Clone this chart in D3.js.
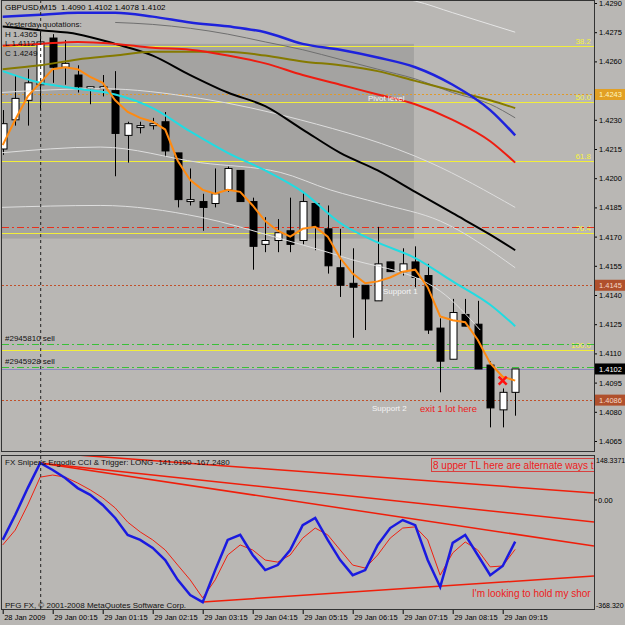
<!DOCTYPE html>
<html>
<head>
<meta charset="utf-8">
<script src="https://cdn.jsdelivr.net/npm/d3@7"></script>
<style>
body { margin: 0; background: #b9b7b4; }
svg { display: block; }
text { font-family: "Liberation Sans", Arial, sans-serif; }
</style>
</head>
<body>
<svg id="chart" width="625" height="625"></svg>
<script>
// GBPUSD M15, 28 Jan 2009 23:15 .. 29 Jan 09:30 (42 bars)
var opens  = [1.4215,1.4230,1.4240,1.4248,1.4272,1.4257,1.4253,1.4246,1.4246,1.4245,1.4222,1.4226,1.4227,1.4229,1.4213,1.4188,1.4188,1.4187,1.4194,1.4204,1.4188,1.4166,1.4168,1.4173,1.4168,1.4187,1.4174,1.4154,1.4146,1.4145,1.4137,1.4157,1.4152,1.4157,1.4150,1.4123,1.4107,1.4130,1.4125,1.4104,1.4081,1.4090];
var highs  = [1.4235,1.4253,1.4256,1.4276,1.4274,1.4271,1.4258,1.4247,1.4253,1.4255,1.4229,1.4229,1.4231,1.4234,1.4213,1.4205,1.4192,1.4205,1.4206,1.4204,1.4190,1.4180,1.4179,1.4190,1.4193,1.4187,1.4186,1.4174,1.4164,1.4145,1.4175,1.4157,1.4164,1.4165,1.4156,1.4128,1.4138,1.4138,1.4137,1.4106,1.4092,1.4102];
var lows   = [1.4212,1.4227,1.4227,1.4235,1.4249,1.4248,1.4244,1.4238,1.4242,1.4201,1.4208,1.4223,1.4225,1.4211,1.4185,1.4186,1.4173,1.4185,1.4193,1.4188,1.4153,1.4162,1.4162,1.4162,1.4166,1.4163,1.4151,1.4139,1.4118,1.4122,1.4137,1.4152,1.4150,1.4144,1.4120,1.4090,1.4107,1.4124,1.4102,1.4072,1.4072,1.4078];
var closes = [1.4228,1.4241,1.4249,1.4270,1.4257,1.4259,1.4247,1.4247,1.4247,1.4223,1.4228,1.4227,1.4228,1.4214,1.4189,1.4189,1.4185,1.4192,1.4205,1.4188,1.4165,1.4168,1.4172,1.4166,1.4188,1.4175,1.4155,1.4145,1.4144,1.4138,1.4156,1.4152,1.4156,1.4149,1.4122,1.4106,1.4131,1.4124,1.4102,1.4082,1.4090,1.4102];

// fast MA (orange), one value per bar
var maFast = [1.4217,1.4230,1.4242,1.4249,1.4256,1.4257,1.4256,1.4252,1.4249,1.4240,1.4234,1.4231,1.4229,1.4225,1.4209,1.4199,1.4194,1.4192,1.4194,1.4193,1.4186,1.4178,1.4173,1.4170,1.4174,1.4175,1.4170,1.4159,1.4151,1.4146,1.4147,1.4149,1.4152,1.4153,1.4144,1.4129,1.4127,1.4126,1.4117,1.4105,1.4098,1.4096];

// slower MAs read every 3 bars
var maBars  = [0,3,6,9,12,15,18,21,24,27,30,33,36,39,41];
var maBlue  = [1.4283,1.4284,1.4285,1.4285,1.4283,1.4280,1.4278,1.4275,1.4269,1.4266,1.4262,1.4257,1.4248,1.4235,1.4222];
var maRed   = [1.4268,1.4269,1.4270,1.4269,1.4267,1.4266,1.4263,1.4259,1.4253,1.4248,1.4243,1.4238,1.4230,1.4219,1.4208];
var maOlive = [1.4256,1.4258,1.4261,1.4263,1.4265,1.4265,1.4265,1.4263,1.4260,1.4258,1.4255,1.4250,1.4245,1.4240,1.4236];
var maBlack = [1.4278,1.4276,1.4274,1.4269,1.4263,1.4253,1.4244,1.4237,1.4225,1.4213,1.4204,1.4193,1.4182,1.4171,1.4163];
var maCyan  = [1.4255,1.4249,1.4246,1.4243,1.4236,1.4224,1.4213,1.4204,1.4193,1.4177,1.4167,1.4159,1.4147,1.4135,1.4124];

// envelope lines as [bar, price]
var envTop   = [[30,1.4294],[33,1.4291],[36,1.4285],[39,1.4279],[41,1.4275]];
var envGray  = [[9,1.4280],[12,1.4279],[15,1.4277],[18,1.4274],[21,1.4270],[24,1.4266],[27,1.4261],[30,1.4256],[33,1.4251],[36,1.4244],[39,1.4238],[41,1.4231]];
var envHigh  = [[-0.2,1.4244],[7.8,1.4246],[15.8,1.4241],[23.8,1.4230],[34.2,1.4208],[41,1.4185]];
var envMid   = [[-0.2,1.4213],[7.8,1.4216],[15.8,1.4208],[22.2,1.4203],[26.2,1.4194],[30.2,1.4187],[35,1.4178],[41,1.4154]];
var envLow   = [[-0.2,1.4185],[7.8,1.4186],[15.8,1.4180],[22.2,1.4169],[27.5,1.4159],[35,1.4142],[38.2,1.4122]];

// levels
var fibNames  = ["38.2","50.0","61.8","76.4","100.0"];
var fibPrices = [1.4268,1.4239,1.4209,1.4172,1.4112];
var pivot = 1.4243, support1 = 1.4145, support2 = 1.4086, lastPrice = 1.4102;
var redDashLevel = 1.4175;
var orderNames  = ["#2945810 sell","#2945928 sell"];
var orderPrices = [1.4115,1.4103];
var boxBars = [-0.3, 32.9], boxPrices = [1.4269, 1.4169];
var priceTicks = [1.4290,1.4275,1.4260,1.4245,1.4230,1.4215,1.4200,1.4185,1.4170,1.4155,1.4140,1.4125,1.4110,1.4095,1.4080,1.4065];

// Ergodic CCI (blue) and trigger (red)
var cci     = [-135,-51,40,125,101,74,40,17,-17,-61,-118,-135,-162,-203,-270,-321,-345,-237,-135,-118,-186,-237,-220,-169,-85,-61,-135,-203,-254,-237,-152,-95,-68,-85,-203,-294,-145,-118,-186,-254,-223,-141];
var trigger = [-152,-102,-17,77,84,77,57,34,7,-27,-75,-108,-135,-169,-220,-270,-331,-270,-186,-152,-169,-203,-210,-186,-129,-95,-118,-169,-220,-230,-186,-129,-95,-91,-135,-254,-179,-142,-169,-226,-223,-167];
var trendLines = [[[5.94,151.7],[47.3,23.4]],[[2.98,124.7],[47.3,-74.5]],[[2.98,124.7],[47.3,-155.6]],[[16.0,-344.7],[47.3,-256.9]]];

var timeBars   = [0,4,8,12,16,20,24,28,32,36,40];
var timeLabels = ["28 Jan 2009","29 Jan 00:15","29 Jan 01:15","29 Jan 02:15","29 Jan 03:15","29 Jan 04:15","29 Jan 05:15","29 Jan 06:15","29 Jan 07:15","29 Jan 08:15","29 Jan 09:15"];

var svg = d3.select("#chart");
var left = 2, right = 594, mainBottom = 452, subTop = 455, subBottom = 610;

var x = d3.scaleLinear().domain([0, 41]).range([2.7, 515.2]);
var y = d3.scaleLinear().domain([1.4065, 1.4290]).range([441, 3]);
var yc = d3.scaleLinear().domain([-368.32, 148.3371]).range([609, 456]);

svg.append("rect").attr("width", 625).attr("height", 625).attr("fill", "#b9b7b4");

var defs = svg.append("defs");
defs.append("clipPath").attr("id", "clipMain").append("rect")
    .attr("x", left).attr("y", 0).attr("width", right - left).attr("height", mainBottom);
defs.append("clipPath").attr("id", "clipSub").append("rect")
    .attr("x", left).attr("y", subTop).attr("width", right - left).attr("height", subBottom - subTop);

var main = svg.append("g").attr("clip-path", "url(#clipMain)");
var sub = svg.append("g").attr("clip-path", "url(#clipSub)");

// shaded box
main.append("rect")
    .attr("x", x(boxBars[0])).attr("y", y(boxPrices[0]))
    .attr("width", x(boxBars[1]) - x(boxBars[0]))
    .attr("height", y(boxPrices[1]) - y(boxPrices[0]))
    .attr("fill", "#a4a3a1");

function hline(price, color, dash, w) {
    main.append("line")
        .attr("x1", left).attr("x2", right)
        .attr("y1", Math.round(y(price)) + 0.5).attr("y2", Math.round(y(price)) + 0.5)
        .attr("stroke", color).attr("stroke-width", w || 1)
        .attr("stroke-dasharray", dash);
}

// levels
fibPrices.forEach(function (p, k) {
    hline(p, "#f2ee3a", null, 1);
    main.append("text").attr("x", 591).attr("y", Math.round(y(p)) - 2)
        .attr("text-anchor", "end").attr("font-size", 8).attr("fill", "#f6f23c")
        .text(fibNames[k]);
});
hline(pivot, "#e09a2a", "2,2");
hline(support1, "#c0502a", "2,2");
hline(support2, "#c0502a", "2,2");
hline(redDashLevel, "#e8301c", "7,3,2,3");
orderPrices.forEach(function (p, k) {
    hline(p, "#38c038", "7,3,2,3");
    main.append("text").attr("x", 5).attr("y", Math.round(y(p)) - 3)
        .attr("font-size", 8).attr("fill", "#111").text(orderNames[k]);
});
hline(lastPrice, "#8a8ac0", null);

// day separator
svg.append("line").attr("x1", x(3) + 0.5).attr("x2", x(3) + 0.5)
    .attr("y1", 0).attr("y2", subBottom)
    .attr("stroke", "#222").attr("stroke-dasharray", "3,3");

// candles
var bw = 7;
var candles = main.append("g");
opens.forEach(function (o, i) {
    var cx = Math.round(x(i)) + 0.5;
    var c = closes[i];
    candles.append("line").attr("x1", cx).attr("x2", cx)
        .attr("y1", y(highs[i])).attr("y2", y(lows[i]))
        .attr("stroke", "#000");
    var top = y(Math.max(o, c)), bot = y(Math.min(o, c));
    candles.append("rect")
        .attr("x", cx - bw / 2).attr("y", top)
        .attr("width", bw).attr("height", Math.max(1, bot - top))
        .attr("fill", c >= o ? "#fff" : "#000")
        .attr("stroke", "#000").attr("stroke-width", 1);
});

// moving averages
function lineOf(xs, ys, color, w, curve) {
    var pts = xs.map(function (b, k) { return [b, ys[k]]; });
    main.append("path").datum(pts)
        .attr("fill", "none").attr("stroke", color).attr("stroke-width", w)
        .attr("d", d3.line().x(function (d) { return x(d[0]); })
            .y(function (d) { return y(d[1]); }).curve(curve || d3.curveMonotoneX));
}
function envOf(pts, color) {
    lineOf(pts.map(function (d) { return d[0]; }), pts.map(function (d) { return d[1]; }), color, 1);
}
envOf(envTop, "#e6e6e6");
envOf(envGray, "#6f6f6f");
envOf(envHigh, "#dedede");
envOf(envMid, "#dedede");
envOf(envLow, "#dedede");
lineOf(maBars, maBlack, "#000", 2);
lineOf(maBars, maOlive, "#857a00", 2);
lineOf(maBars, maRed, "#ee1c10", 2);
lineOf(maBars, maBlue, "#1e22dc", 2.5);
lineOf(maBars, maCyan, "#20dce2", 2);
lineOf(d3.range(opens.length), maFast, "#ff8a10", 2, d3.curveLinear);

// annotations
main.append("text").attr("x", 368).attr("y", y(pivot) + 7).attr("font-size", 8)
    .attr("fill", "#f4f4f4").text("Pivot level");
main.append("text").attr("x", 383).attr("y", y(support1) + 9).attr("font-size", 8)
    .attr("fill", "#f4f4f4").text("Support 1");
main.append("text").attr("x", 372).attr("y", y(support2) + 11).attr("font-size", 8)
    .attr("fill", "#f4f4f4").text("Support 2");
main.append("text").attr("x", 420).attr("y", y(support2) + 12).attr("font-size", 9.5)
    .attr("fill", "#ee2020").text("exit 1 lot here");
var mx = x(40), my = y(1.4096);
main.append("path")
    .attr("d", "M" + (mx - 4) + "," + (my - 4) + "L" + (mx + 4) + "," + (my + 4) +
        "M" + (mx + 4) + "," + (my - 4) + "L" + (mx - 4) + "," + (my + 4))
    .attr("stroke", "#ff1010").attr("stroke-width", 2.5);

// header
svg.append("text").attr("x", 5).attr("y", 10).attr("font-size", 8).attr("fill", "#000")
    .attr("xml:space", "preserve").text("GBPUSD,M15  1.4090 1.4102 1.4078 1.4102");
["Yesterday quotations:", "H 1.4365", "L 1.4112", "C 1.4249"].forEach(function (t, k) {
    svg.append("text").attr("x", 5).attr("y", 27 + k * 9.5).attr("font-size", 8)
        .attr("fill", "#111").text(t);
});

// price axis
var yAxis = svg.append("g").attr("transform", "translate(" + right + ",0)")
    .call(d3.axisRight(y).tickValues(priceTicks).tickFormat(d3.format(".4f")).tickSize(3).tickPadding(2));
yAxis.select(".domain").remove();
yAxis.selectAll("text").attr("font-size", 7.5).attr("fill", "#000");
yAxis.selectAll("line").attr("stroke", "#000");

function priceTag(p, bg, fg) {
    var g = svg.append("g");
    g.append("rect").attr("x", right + 1).attr("y", y(p) - 5.5).attr("width", 30).attr("height", 11)
        .attr("fill", bg);
    g.append("text").attr("x", right + 5).attr("y", y(p) + 3).attr("font-size", 7.5).attr("fill", fg)
        .text(d3.format(".4f")(p));
}
priceTag(pivot, "#e2a024", "#fff6c0");
priceTag(support1, "#b0502c", "#f4d8c8");
priceTag(support2, "#b0502c", "#f4d8c8");
priceTag(lastPrice, "#000", "#fff");

// sub window
trendLines.forEach(function (t) {
    sub.append("line")
        .attr("x1", x(t[0][0])).attr("y1", yc(t[0][1]))
        .attr("x2", x(t[1][0])).attr("y2", yc(t[1][1]))
        .attr("stroke", "#f01e0a").attr("stroke-width", 1.5);
});
var cciLine = d3.line().x(function (d, i) { return x(i); }).y(function (d) { return yc(d); });
sub.append("path").datum(trigger).attr("fill", "none").attr("stroke", "#f02010")
    .attr("stroke-width", 1).attr("d", cciLine);
sub.append("path").datum(cci).attr("fill", "none").attr("stroke", "#1a1ae0")
    .attr("stroke-width", 2.5).attr("d", cciLine);

sub.append("text").attr("x", 5).attr("y", 465).attr("font-size", 8).attr("fill", "#111")
    .text("FX Sniper's Ergodic CCI & Trigger: LONG -141.0190 -167.2480");
sub.append("rect").attr("x", 431.5).attr("y", 458.5).attr("width", 170).attr("height", 13)
    .attr("fill", "none").attr("stroke", "#d84040");
sub.append("text").attr("x", 433).attr("y", 469).attr("font-size", 10).attr("fill", "#ee2020")
    .text("8 upper TL here are alternate ways t");
sub.append("text").attr("x", 472).attr("y", 597).attr("font-size", 10).attr("fill", "#ee2020")
    .text("I'm looking to hold my shor");
sub.append("text").attr("x", 5).attr("y", 608).attr("font-size", 8).attr("fill", "#111")
    .text("PFG FX, \u00a9 2001-2008 MetaQuotes Software Corp.");

svg.append("text").attr("x", right + 2).attr("y", 463).attr("font-size", 7).text("148.3371");
svg.append("line").attr("x1", right).attr("x2", right + 3).attr("y1", yc(0)).attr("y2", yc(0)).attr("stroke", "#000");
svg.append("text").attr("x", right + 4).attr("y", yc(0) + 3).attr("font-size", 7.5).text("0.00");
svg.append("text").attr("x", right + 2).attr("y", 608).attr("font-size", 7).text("-368.320");

// frames
[[0, mainBottom], [subTop, subBottom]].forEach(function (r) {
    svg.append("rect").attr("x", left - 0.5).attr("y", r[0] + 0.5)
        .attr("width", right - left + 1).attr("height", r[1] - r[0] - 1)
        .attr("fill", "none").attr("stroke", "#333");
});

// time axis
var xAxis = svg.append("g").attr("transform", "translate(0," + subBottom + ")")
    .call(d3.axisBottom(x).tickValues(timeBars)
        .tickFormat(function (d, k) { return timeLabels[k]; }).tickSize(4));
xAxis.select(".domain").remove();
xAxis.selectAll("line").attr("stroke", "#000");
xAxis.selectAll("text").attr("text-anchor", "start").attr("dx", 1).attr("dy", "0.4em")
    .attr("font-size", 7.5).attr("fill", "#000");
</script>
</body>
</html>
